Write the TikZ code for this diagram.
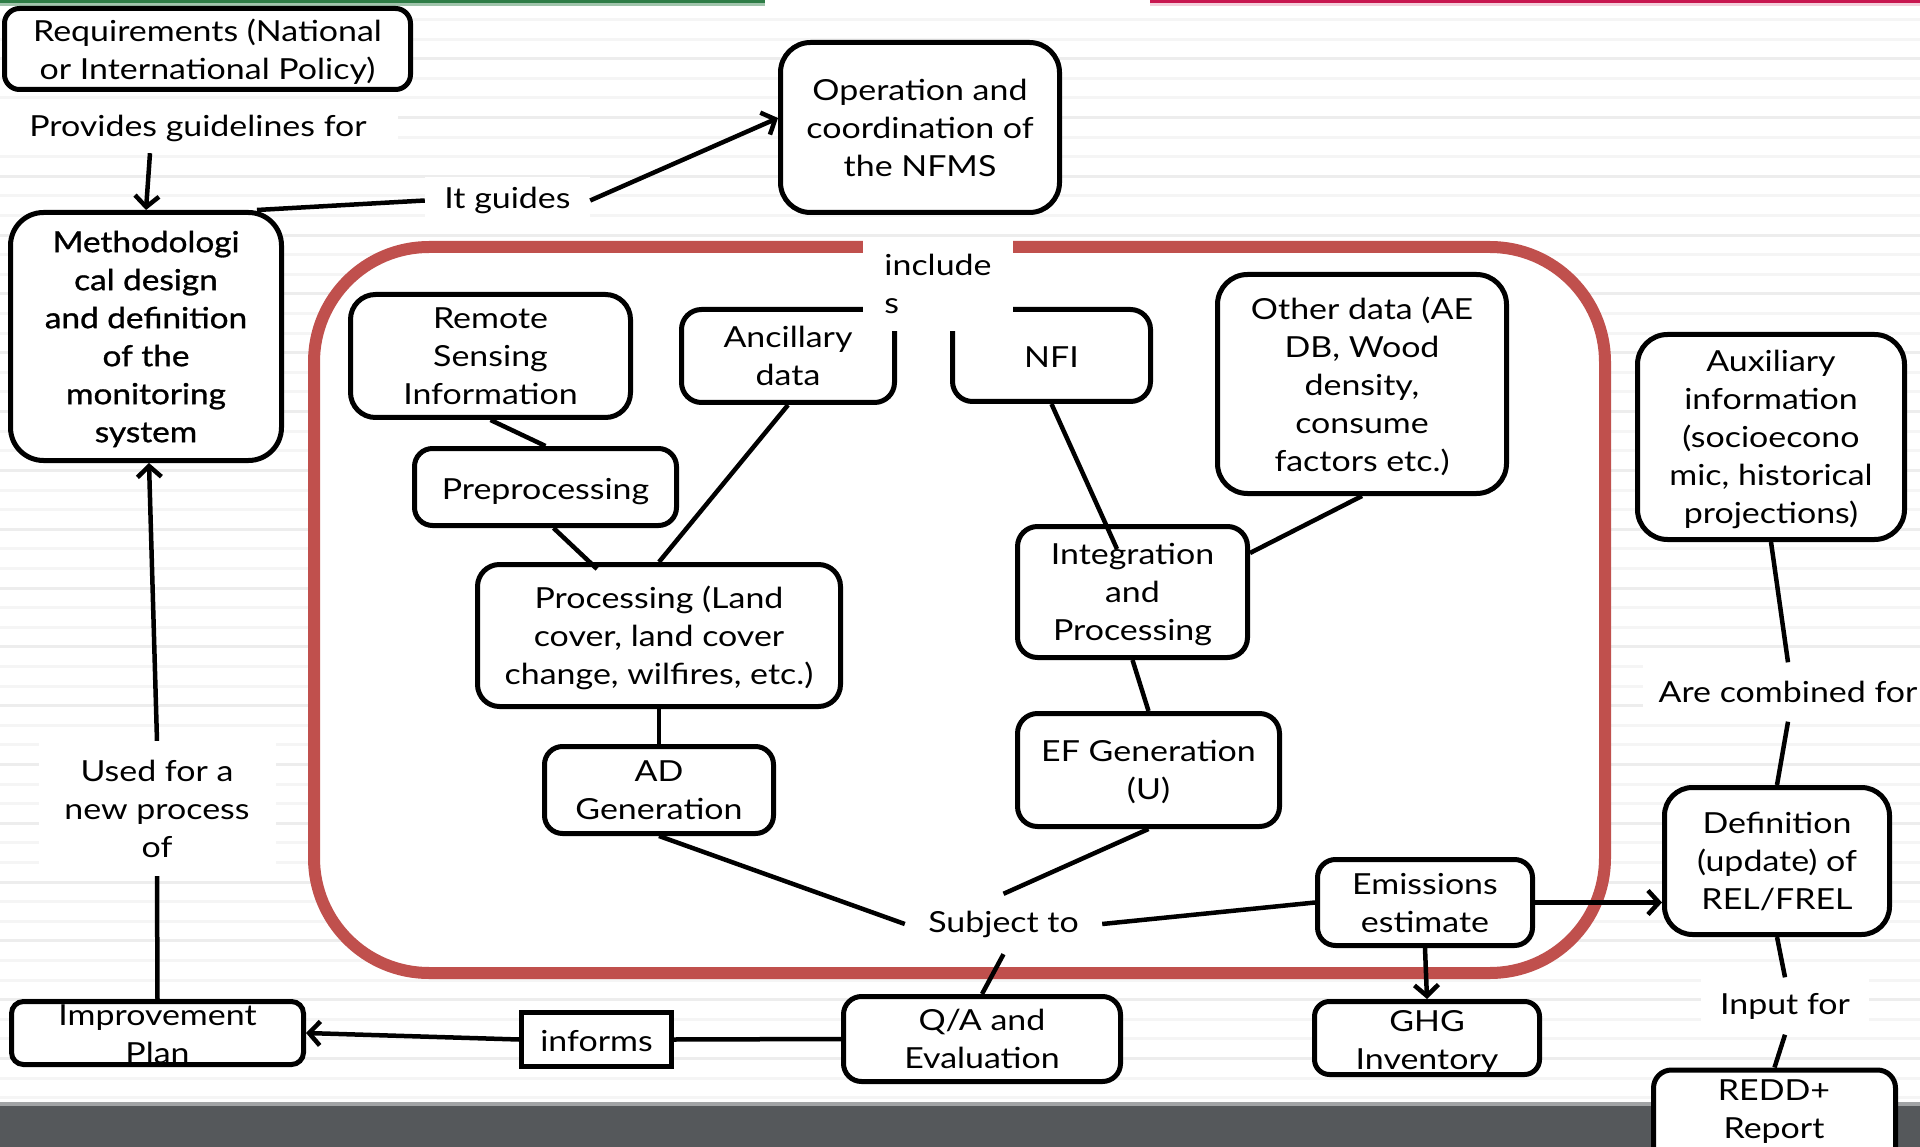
\documentclass[tikz,border=0pt]{standalone}
\usepackage{fontspec}
\setmainfont{Lato}[FakeStretch=1.17]
\newfontfamily\methfont{Lato}[FakeStretch=1.15,FakeBold=1.0]
\usetikzlibrary{arrows.meta}
\definecolor{framered}{RGB}{192,80,77}
\definecolor{bargray}{RGB}{85,88,91}
\definecolor{topgreen}{RGB}{46,125,70}
\definecolor{toppink}{RGB}{200,22,80}
\newcommand\boxfnt{\fontsize{29pt}{38pt}\selectfont}
\tikzset{
  box/.style={draw, line width=5pt, rounded corners=18pt, fill=white, align=center, inner sep=0pt, font=\boxfnt,
    text depth=-7pt},
  oneline/.style={text height=30pt, text depth=6pt},
  tag/.style={fill=white, align=center, inner sep=0pt, font=\boxfnt},
  txt/.style={align=center, inner sep=0pt, font=\boxfnt},
  conn/.style={line width=4.5pt},
  arr/.style={conn, -{Straight Barb[length=11pt,width=24pt]}},
}
\begin{document}
\begin{tikzpicture}[x=1pt,y=-1pt]
\useasboundingbox (0,0) rectangle (1920,1147);
% page background with faint horizontal ruling
\fill[white] (0,0) rectangle (1920,1147);
\foreach \k in {1,...,58}{
  \pgfmathsetmacro\sh{mod(\k,3)==0 ? 7 : 4}
  \draw[black!\sh, line width=3pt] (0,{19.6*\k}) -- (1920,{19.6*\k});
}
% top accent lines and bottom bar
\fill[topgreen] (0,0) rectangle (765,3);
\fill[topgreen!45] (0,3) rectangle (765,6);
\fill[toppink] (1150,0) rectangle (1920,3);
\fill[toppink!20] (1150,3) rectangle (1920,6);
\fill[bargray!55] (0,1102) rectangle (1920,1107);
\fill[bargray] (0,1106) rectangle (1920,1147);

% NFMS frame
\draw[framered, line width=12pt, fill=white, rounded corners=115pt] (314,247) rectangle (1605,973);

% boxes
\node[box, minimum width=406pt, minimum height=81pt, rounded corners=15pt] (req) at (207.5,49) {Requirements (National\\or International Policy)};
\node[box, minimum width=271pt, minimum height=248pt, rounded corners=33pt, font=\boxfnt\methfont] (meth) at (146,336.5) {Methodologi\\cal design\\and definition\\of the\\monitoring\\system};
\node[box, minimum width=279pt, minimum height=170pt, rounded corners=30pt] (oper) at (920,127.5) {Operation and\\coordination of\\the NFMS};
\node[box, minimum width=280pt, minimum height=123pt, rounded corners=25pt] (rs) at (490.5,356) {Remote\\Sensing\\Information};
\node[box, minimum width=213pt, minimum height=93pt, rounded corners=20pt] (anc) at (788,356) {Ancillary\\data};
\node[box, oneline, minimum width=198pt, minimum height=92pt, rounded corners=20pt] (nfi) at (1051.5,355.5) {NFI};
\node[box, minimum width=289pt, minimum height=219pt, rounded corners=30pt] (oth) at (1362,384) {Other data (AE\\DB, Wood\\density,\\consume\\factors etc.)};
\node[box, oneline, minimum width=262pt, minimum height=77pt] (pre) at (545.5,487) {Preprocessing};
\node[box, minimum width=363pt, minimum height=142pt, rounded corners=22pt] (proc) at (659,635.5) {Processing (Land\\cover, land cover\\change, wilfires, etc.)};
\node[box, minimum width=230pt, minimum height=131pt, rounded corners=20pt] (integ) at (1132.5,592) {Integration\\and\\Processing};
\node[box, minimum width=262pt, minimum height=113pt, rounded corners=20pt] (ef) at (1148.5,770) {EF Generation\\(U)};
\node[box, minimum width=229pt, minimum height=87pt] (ad) at (659,790) {AD\\Generation};
\node[box, minimum width=215pt, minimum height=86pt] (emis) at (1425,902.5) {Emissions\\estimate};
\node[box, minimum width=225pt, minimum height=147pt, rounded corners=28pt] (defn) at (1777,861) {Definition\\(update) of\\REL/FREL};
\node[box, minimum width=225pt, minimum height=73pt, rounded corners=15pt] (ghg) at (1427,1038) {};
\node[txt] (ghgt) at (1427,1042) {GHG\\Inventory};
\node[box, minimum width=277pt, minimum height=85pt] (qa) at (982,1039) {Q/A and\\Evaluation};
\node[box, oneline, minimum width=150pt, minimum height=54pt, rounded corners=0pt] (inf) at (596.5,1039.5) {informs};
\node[box, minimum width=292pt, minimum height=63pt, rounded corners=12pt] (imp) at (157.5,1033) {};
\node[txt] (impt) at (157.5,1034) {Improvement\\Plan};
\node[box, minimum width=267pt, minimum height=205pt, rounded corners=30pt] (aux) at (1771,437) {Auxiliary\\information\\(socioecono\\mic, historical\\projections)};
\node[box, minimum width=242pt, minimum height=100pt, rounded corners=18pt] (redd) at (1774.5,1120) {};
\node[txt] (reddt) at (1774,1112) {REDD+\\Report};

% connector labels
\node[tag, minimum width=400pt, minimum height=50pt] (prov) at (198,128) {Provides guidelines for};
\node[tag, minimum width=165pt, minimum height=47pt] (itg) at (507.5,200.5) {It guides};
\node[tag, minimum width=150pt, minimum height=94pt, align=left] (incl) at (938,284) {include\\s};
\node[tag, minimum width=197pt, minimum height=60pt] (subj) at (1003.5,924) {Subject to};
\node[tag, minimum width=237pt, minimum height=135pt] (used) at (157,808.5) {Used for a\\new process\\of};
\node[tag, minimum width=290pt, minimum height=59pt] (comb) at (1788,692) {Are combined for};
\node[tag, minimum width=168pt, minimum height=57pt] (inp) at (1785,1006) {Input for};

% connectors
\draw[arr] ([xshift=-48pt]prov.south) -- (meth.north);
\draw[conn] ([xshift=-27pt]meth.north east) -- (itg.west);
\draw[arr] (itg.east) -- ([yshift=9.5pt]oper.west);
\draw[conn] (rs.south) -- (pre.north);
\draw[conn] ([xshift=8pt]pre.south) -- ([xshift=-62pt,yshift=-7pt]proc.north);
\draw[conn] (anc.south) -- (proc.north);
\draw[conn] (nfi.south) -- ([xshift=-15.5pt,yshift=-25pt]integ.north);
\draw[conn] (oth.south) -- ([yshift=39pt]integ.east);
\draw[conn] (integ.south) -- (ef.north);
\draw[conn] (proc.south) -- (ad.north);
\draw[conn] (ad.south) -- (subj.west);
\draw[conn] (ef.south) -- (subj.north);
\draw[conn] (subj.east) -- (emis.west);
\draw[conn] (subj.south) -- (qa.north);
\draw[arr] (emis.east) -- (emis.east -| defn.west);
\draw[arr] (emis.south) -- (ghg.north);
\draw[conn] (qa.west) -- (inf.east);
\draw[arr] (inf.west) -- (imp.east);
\draw[conn] (imp.north) -- (used.south);
\draw[arr] (used.north) -- ([xshift=3pt]meth.south);
\draw[conn] (aux.south) -- (comb.north);
\draw[conn] (comb.south) -- (defn.north);
\draw[conn] (defn.south) -- (inp.north);
\draw[conn] (inp.south) -- (redd.north);
\end{tikzpicture}
\end{document}
